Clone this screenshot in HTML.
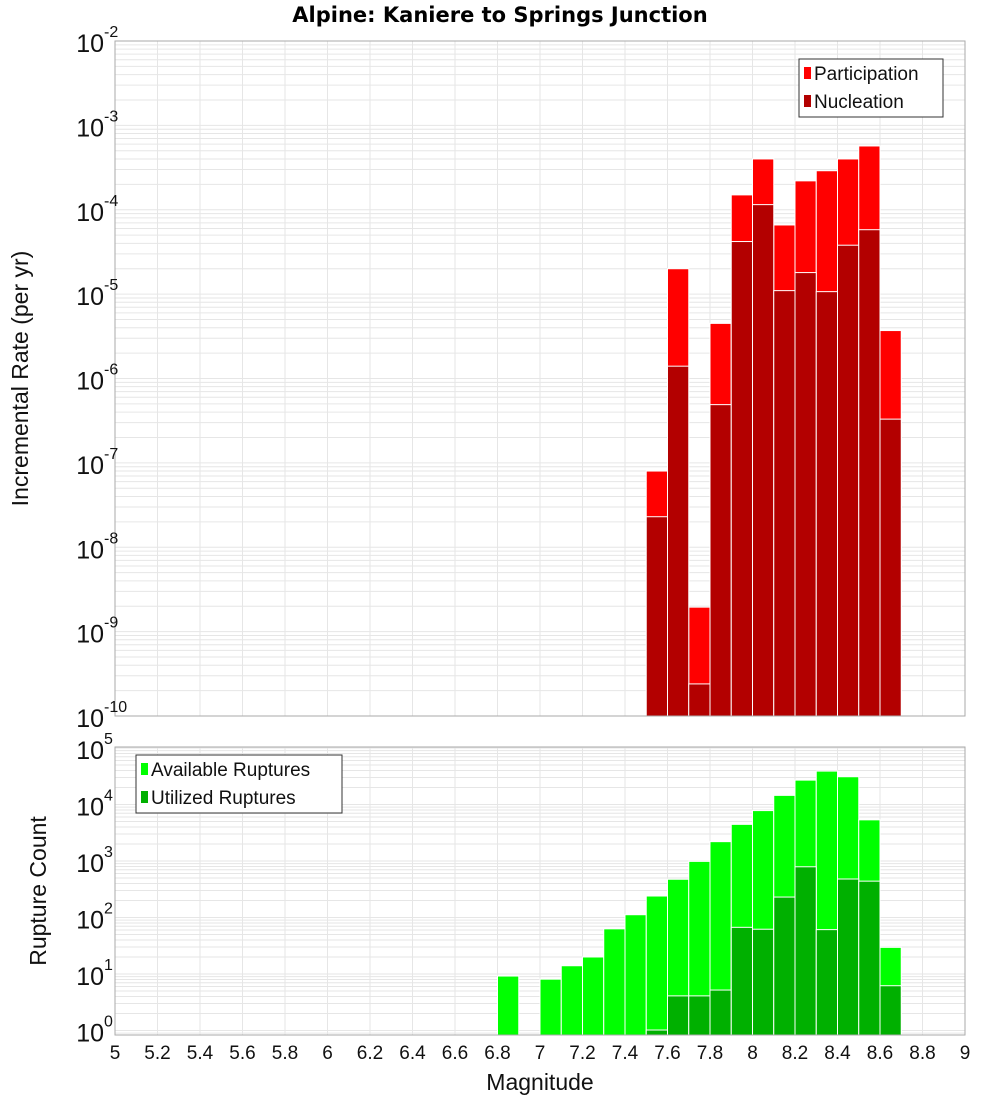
<!DOCTYPE html>
<html><head><meta charset="utf-8">
<style>
body{margin:0;background:#fff;}
svg{display:block;font-family:"Liberation Sans","DejaVu Sans",sans-serif;}
</style></head>
<body>
<svg id="chart" width="1000" height="1100" viewBox="0 0 1000 1100" xmlns="http://www.w3.org/2000/svg">
<text x="500" y="22" text-anchor="middle" font-size="21" font-weight="bold" font-family="DejaVu Sans, sans-serif">Alpine: Kaniere to Springs Junction</text>
<g id="top"></g>
<g id="bot"></g>
</svg>
<script>
const bins = [6.85,6.95,7.05,7.15,7.25,7.35,7.45,7.55,7.65,7.75,7.85,7.95,8.05,8.15,8.25,8.35,8.45,8.55,8.65];
const participation = [0,0,0,0,0,0,0,8e-8,2e-5,1.95e-9,4.5e-6,1.5e-4,4e-4,6.6e-5,2.2e-4,2.9e-4,4e-4,5.7e-4,3.7e-6];
const nucleation = [0,0,0,0,0,0,0,2.3e-8,1.4e-6,2.4e-10,4.9e-7,4.2e-5,1.15e-4,1.1e-5,1.8e-5,1.07e-5,3.8e-5,5.8e-5,3.3e-7];
const available = [9.2,0,8.1,14,20,63,112,240,475,985,2200,4450,7800,14500,27000,39000,31000,5350,29.6];
const utilized = [0,0,0,0,0,0,0,1.02,4.1,4.1,5.2,67,62,230,790,61,480,440,6.2];
const xTicks = [5,5.2,5.4,5.6,5.8,6,6.2,6.4,6.6,6.8,7,7.2,7.4,7.6,7.8,8,8.2,8.4,8.6,8.8,9];
const topExps = [-2,-3,-4,-5,-6,-7,-8,-9,-10];
const botExps = [5,4,3,2,1,0];

const NS="http://www.w3.org/2000/svg";
const X0=115,X1=965;
const xs=m=>X0+(m-5)/4*(X1-X0);
function mk(parent,tag,attrs){const e=document.createElementNS(NS,tag);for(const k in attrs)e.setAttribute(k,attrs[k]);parent.appendChild(e);return e;}

function panel(g,top,bottom,yOfLog,logMin,logMax,exps,series,colors,names,legend,title,rot){
  // grid
  for(let d=Math.floor(logMin);d<=Math.ceil(logMax);d++){
    for(let k=1;k<10;k++){
      const y=yOfLog(d+Math.log10(k));
      if(y<top-0.5||y>bottom+0.5)continue;
      const l=mk(g,'line',{x1:X0,x2:X1,y1:y,y2:y,stroke:'#e6e6e6','stroke-width':1});
      
      
    }
  }
  xTicks.forEach(t=>{
    const l=mk(g,'line',{x1:xs(t),x2:xs(t),y1:top,y2:bottom,stroke:'#e6e6e6','stroke-width':1});
    
    
  });
  // bars
  series.forEach((vals,si)=>{
    vals.forEach((v,i)=>{
      if(!(v>0))return;
      let y=yOfLog(Math.log10(v)); if(y<top)y=top; if(y>bottom)return;
      const x=xs(bins[i]-0.05);
      const r=mk(g,'rect',{x:x,y:y,width:(X1-X0)/40,height:bottom-y,fill:colors[si],stroke:'#fff','stroke-width':1});
      
      
    });
  });
  const fr=mk(g,'rect',{x:X0,y:top,width:X1-X0,height:bottom-top,fill:'none',stroke:'#aaa','stroke-width':1});
  
  
  // y ticks
  exps.forEach(e=>{
    const y=yOfLog(e);
    const t=mk(g,'text',{x:104,y:y+11,'text-anchor':'end','font-size':25,fill:'#111'});
    
    
    t.textContent='10';
    const s=mk(g,'text',{x:104,y:y-4,'font-size':16,fill:'#111'});
    
    
    s.textContent=String(e);
  });
  // y title
  const cy=(top+bottom)/2;
  const tt=mk(g,'text',{x:0,y:0,transform:`translate(${rot},${cy}) rotate(-90)`,'text-anchor':'middle','font-size':23,fill:'#111'});
  
  
  tt.textContent=title;
  // legend
  const lg=mk(g,'g',{});
  
  
  mk(lg,'rect',{x:legend.x,y:legend.y,width:legend.w,height:58,fill:'#fff',stroke:'#333','stroke-width':1});
  names.forEach((n,i)=>{
    const ey=legend.y+14+i*28;
    const sw=mk(lg,'rect',{x:legend.x+5,y:ey-6,width:7,height:12,fill:colors[i]});
    
    
    const t=mk(lg,'text',{x:legend.x+15,y:ey+7,'font-size':19,fill:'#111'});
    
    
    t.textContent=legend.labels[i];
  });
}

const TT=41,TB=716;
const yTop=l=>TT+(-2-l)*(TB-TT)/8;
panel(document.getElementById('top'),TT,TB,yTop,-10,-2,topExps,[participation,nucleation],['#ff0000','#b30000'],['participation','nucleation'],
  {x:799,y:59,w:144,labels:['Participation','Nucleation']},'Incremental Rate (per yr)',28);

const BT=747,BB=1035;
const yBot=l=>1030.5-56.5*l;
panel(document.getElementById('bot'),BT,BB,yBot,-1,5,botExps,[available,utilized],['#00ff00','#00b000'],['available','utilized'],
  {x:136,y:755,w:206,labels:['Available Ruptures','Utilized Ruptures']},'Rupture Count',46);

// x ticks
const svg=document.getElementById('chart');
xTicks.forEach(t=>{
  const e=mk(svg,'text',{x:xs(t),y:1059,'text-anchor':'middle','font-size':19,fill:'#111'});
  
  
  e.textContent=String(t);
});
const xt=mk(svg,'text',{x:540,y:1090,'text-anchor':'middle','font-size':23,fill:'#111'});


xt.textContent='Magnitude';
</script>
</body></html>
